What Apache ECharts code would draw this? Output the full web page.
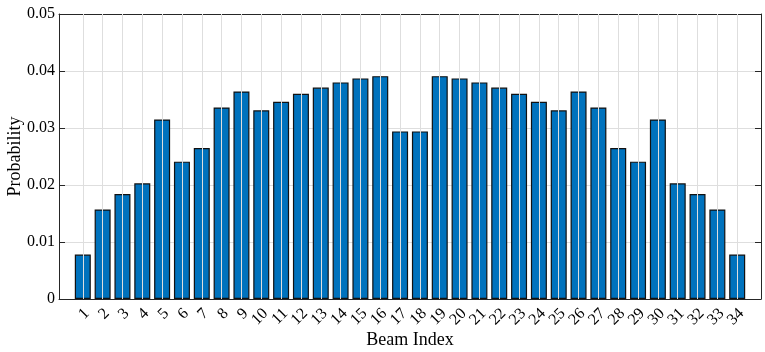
<!DOCTYPE html>
<html>
<head>
<meta charset="utf-8">
<script src="https://cdn.jsdelivr.net/npm/echarts@6/dist/echarts.min.js"></script>
<style>html,body{margin:0;padding:0;background:#fff;}#c{width:765px;height:352px;}</style>
</head>
<body>
<div id="c"></div>
<script>
const beamIndex = [1,2,3,4,5,6,7,8,9,10,11,12,13,14,15,16,17,18,19,20,21,22,23,24,25,26,27,28,29,30,31,32,33,34];
const probability = [0.0078,0.0157,0.0184,0.0203,0.0315,0.0241,0.0265,0.0336,0.0364,0.0331,0.0346,0.0360,0.0371,0.0380,0.0387,0.0391,0.0294,
                     0.0294,0.0391,0.0387,0.0380,0.0371,0.0360,0.0346,0.0331,0.0364,0.0336,0.0265,0.0241,0.0315,0.0203,0.0184,0.0157,0.0078];
const yTicks = [0, 0.01, 0.02, 0.03, 0.04, 0.05];

const font = '"Liberation Serif", "Times New Roman", serif';
const axisColor = '#262626';
const gridColor = '#dedede';

// labels are split over two overlaid axes so none is auto-hidden
const oddIdx = beamIndex.filter(b => b % 2 === 1);
const evenIdx = beamIndex.filter(b => b % 2 === 0);

const chart = echarts.init(document.getElementById('c'));
const common = { type: 'value', min: -0.2, max: 35.2 };
const labelStyle = { rotate: 45, margin: 8, fontFamily: font, fontSize: 16, lineHeight: 12, color: '#000',
  verticalAlign: 'top', showMinLabel: true, showMaxLabel: true, hideOverlap: false };

chart.setOption({
  animation: false,
  grid: { left: 59, right: 4, top: 14, bottom: 53, containLabel: false, outerBoundsMode: 'none' },
  xAxis: [
    Object.assign({}, common, {
      position: 'bottom',
      name: 'Beam Index', nameLocation: 'middle', nameGap: 32, nameMoveOverlap: false,
      nameTextStyle: { fontFamily: font, fontSize: 18, color: '#000' },
      axisLine: { show: true, onZero: false, lineStyle: { color: axisColor, width: 1 } },
      axisTick: { show: true, inside: true, length: 6, customValues: beamIndex, lineStyle: { color: axisColor } },
      axisLabel: Object.assign({ customValues: oddIdx }, labelStyle),
      splitLine: { show: false }
    }),
    Object.assign({}, common, {
      position: 'top',
      axisLine: { show: true, onZero: false, lineStyle: { color: axisColor, width: 1 } },
      axisTick: { show: true, inside: true, length: 6, customValues: beamIndex, lineStyle: { color: axisColor } },
      axisLabel: { show: false },
      splitLine: { show: false }
    }),
    Object.assign({}, common, {
      position: 'bottom',
      axisLine: { show: false, onZero: false },
      axisTick: { show: false, customValues: evenIdx },
      axisLabel: Object.assign({ customValues: evenIdx }, labelStyle),
      splitLine: { show: false }
    })
  ],
  yAxis: [
    {
      type: 'value', min: 0, max: 0.05, interval: 0.01, position: 'left',
      name: 'Probability', nameLocation: 'middle', nameGap: 35, nameMoveOverlap: false,
      nameTextStyle: { fontFamily: font, fontSize: 18, color: '#000' },
      axisLine: { show: true, onZero: false, lineStyle: { color: axisColor, width: 1 } },
      axisTick: { show: true, inside: true, length: 6, lineStyle: { color: axisColor } },
      axisLabel: { margin: 4, fontFamily: font, fontSize: 16, color: '#000',
        formatter: v => (v === 0 ? '0' : v.toFixed(2)) },
      splitLine: { show: true, lineStyle: { color: gridColor, width: 1 } }
    },
    {
      type: 'value', min: 0, max: 0.05, interval: 0.01, position: 'right',
      axisLine: { show: true, onZero: false, lineStyle: { color: axisColor, width: 1 } },
      axisTick: { show: true, inside: true, length: 6, lineStyle: { color: axisColor } },
      axisLabel: { show: false },
      splitLine: { show: false }
    }
  ],
  series: [
    {
      type: 'line', data: [], z: 1, silent: true,
      markLine: {
        silent: true, symbol: 'none', animation: false,
        label: { show: false },
        lineStyle: { color: gridColor, width: 1, type: 'solid' },
        data: beamIndex.map(b => ({ xAxis: b }))
      }
    },
    {
      type: 'bar',
      xAxisIndex: 0, yAxisIndex: 0,
      data: beamIndex.map((b, i) => [b, probability[i]]),
      barWidth: 16,
      itemStyle: { color: '#0072BD', borderColor: '#111', borderWidth: 1.2 },
      z: 3
    }
  ]
});
</script>
</body>
</html>
